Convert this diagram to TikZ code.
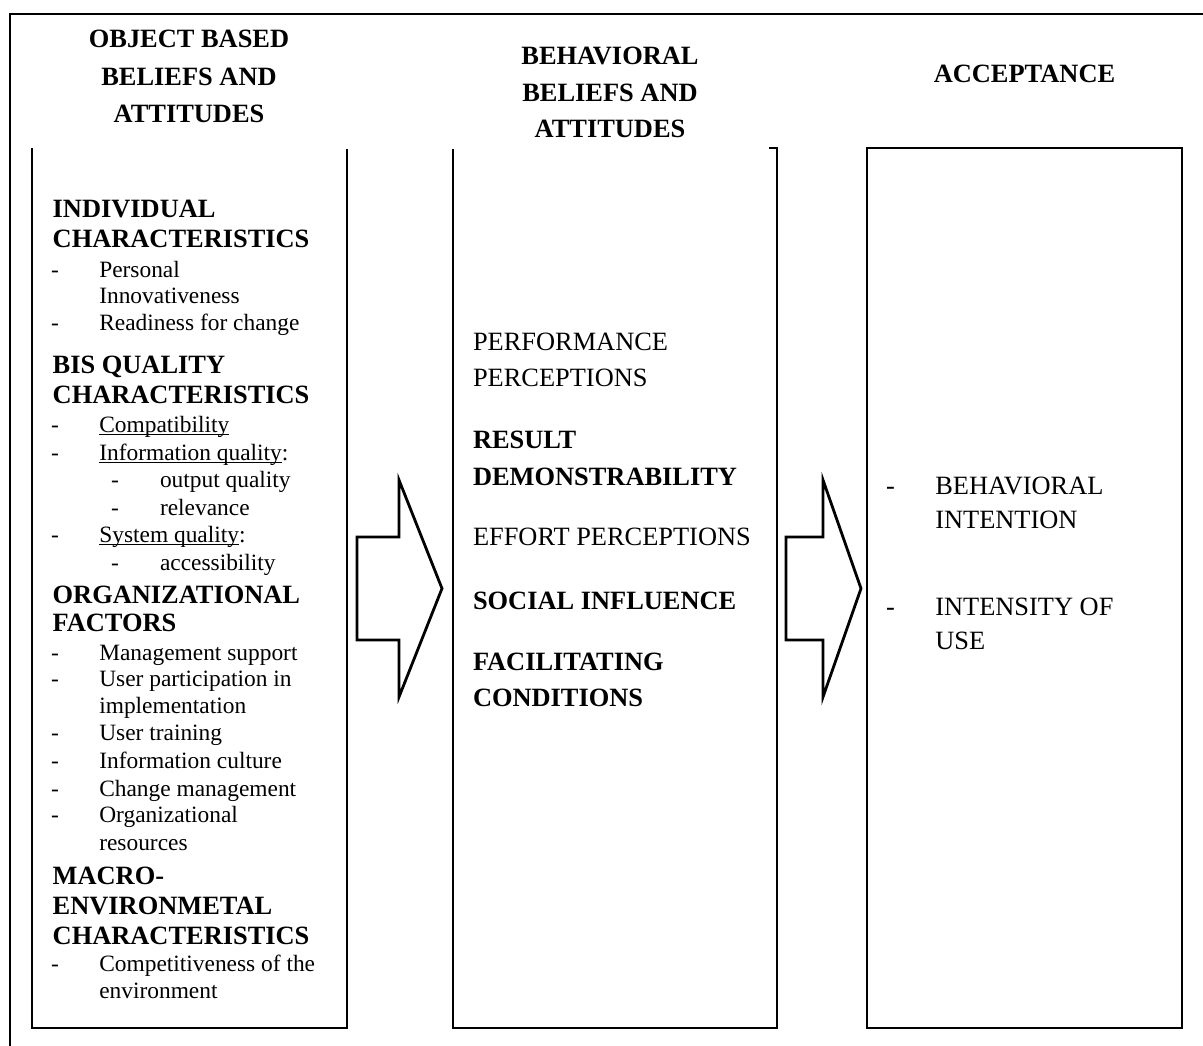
\documentclass[tikz,border=0pt]{standalone}
\usepackage{fontspec}
\setmainfont{Liberation Serif}
% underline drawn at a fixed depth under the baseline
\newcommand\wordul[1]{\setbox0=\hbox{#1}\rlap{\rule[-2.6pt]{\wd0}{1.1pt}}\box0}
\begin{document}
\begin{tikzpicture}[x=1pt,y=-1pt,
  lbl/.style={inner sep=0pt, outer sep=0pt, anchor=base west},
  hd/.style={lbl, font=\fontsize{26.4}{30}\selectfont\bfseries},
  bd/.style={lbl, font=\fontsize{23.4}{27}\selectfont},
  txtbig/.style={lbl, font=\fontsize{26.4}{30}\selectfont},
  ttl/.style={hd, anchor=base},
  boxline/.style={line width=1.3pt},
  blockarrow/.style={line width=2.8pt, line join=miter},
  frameline/.style={line width=2.8pt}
]
\useasboundingbox (0,0) rectangle (1203,1046);
\clip (0,0) rectangle (1203,1046);

% outer frame (runs past the right and bottom edges)
\draw[frameline] (10,14) rectangle (1230,1080);

% column headings
\node[ttl] (oa) at (189,48) {OBJECT BASED};
\node[ttl] (ob) at (189,86) {BELIEFS AND};
\node[ttl] (oc) at (189,123) {ATTITUDES};
\node[ttl] (ba) at (610,65) {BEHAVIORAL};
\node[ttl] (bb) at (610,101.7) {BELIEFS AND};
\node[ttl] (bc) at (610,138) {ATTITUDES};
\node[ttl] (ac) at (1024.5,82.7) {ACCEPTANCE};

% columns
\draw[boxline] (32,148) -- (32,1028) -- (347,1028) -- (347,149);
\draw[boxline] (453,149) -- (453,1028) -- (777,1028) -- (777,148) -- (769,148);
\draw[boxline] (867,148) rectangle (1182,1028);

% block arrows
\draw[blockarrow] (357,537) -- (399,537) -- (399,480) -- (442,588.5)
  -- (399,697) -- (399,640) -- (357,640) -- cycle;
\draw[blockarrow] (786,537) -- (823,537) -- (823,480) -- (861,588.5)
  -- (823,697) -- (823,640) -- (786,640) -- cycle;

% left column: object based beliefs
\node[hd] (h1a) at (52.7,217.7) {INDIVIDUAL};
\node[hd] (h1b) at (52.7,247.3) {CHARACTERISTICS};
\node[bd] (d1) at (51,277) {-};
\node[bd] (i1) at (99.3,277) {Personal};
\node[bd] (i1b) at (99.3,303.5) {Innovativeness};
\node[bd] (d2) at (51,330) {-};
\node[bd] (i2) at (99.3,330) {Readiness for change};

\node[hd] (h2a) at (52.7,373.3) {BIS QUALITY};
\node[hd] (h2b) at (52.7,403.3) {CHARACTERISTICS};
\node[bd] (d3) at (51,432.7) {-};
\node[bd] (i3) at (99.3,432.7) {\wordul{Compatibility}};
\node[bd] (d4) at (51,460) {-};
\node[bd] (i4) at (99.3,460) {\wordul{Information quality}:};
\node[bd] (d4a) at (111,487.3) {-};
\node[bd] (i4a) at (160,487.3) {output quality};
\node[bd] (d4b) at (111,515) {-};
\node[bd] (i4b) at (160,515) {relevance};
\node[bd] (d5) at (51,542.3) {-};
\node[bd] (i5) at (99.3,542.3) {\wordul{System quality}:};
\node[bd] (d5a) at (111,570) {-};
\node[bd] (i5a) at (160,570) {accessibility};

\node[hd] (h3a) at (52.7,603.3) {ORGANIZATIONAL};
\node[hd] (h3b) at (52.7,631.7) {FACTORS};
\node[bd] (d6) at (51,660) {-};
\node[bd] (i6) at (99.3,660) {Management support};
\node[bd] (d7) at (51,686.7) {-};
\node[bd] (i7) at (99.3,686.7) {User participation in};
\node[bd] (i7b) at (99.3,713.3) {implementation};
\node[bd] (d8) at (51,740.7) {-};
\node[bd] (i8) at (99.3,740.7) {User training};
\node[bd] (d9) at (51,768.3) {-};
\node[bd] (i9) at (99.3,768.3) {Information culture};
\node[bd] (d10) at (51,796) {-};
\node[bd] (i10) at (99.3,796) {Change management};
\node[bd] (d11) at (51,822.7) {-};
\node[bd] (i11) at (99.3,822.7) {Organizational};
\node[bd] (i11b) at (99.3,850) {resources};

\node[hd] (h4a) at (52.7,884) {MACRO-};
\node[hd] (h4b) at (52.7,914.5) {ENVIRONMETAL};
\node[hd] (h4c) at (52.7,944.3) {CHARACTERISTICS};
\node[bd] (d12) at (51,971.7) {-};
\node[bd] (i12) at (99.3,971.7) {Competitiveness of the};
\node[bd] (i12b) at (99.3,998.3) {environment};

% middle column: behavioral beliefs
\node[txtbig] (m1a) at (473,350) {PERFORMANCE};
\node[txtbig] (m1b) at (473,386) {PERCEPTIONS};
\node[hd] (m2a) at (473,448.3) {RESULT};
\node[hd] (m2b) at (473,485) {DEMONSTRABILITY};
\node[txtbig] (m3) at (473,545) {EFFORT PERCEPTIONS};
\node[hd] (m4) at (473,609.3) {SOCIAL INFLUENCE};
\node[hd] (m5a) at (473,670.7) {FACILITATING};
\node[hd] (m5b) at (473,706.7) {CONDITIONS};

% right column: acceptance
\node[txtbig] (rd1) at (886,494.3) {-};
\node[txtbig] (r1a) at (935.3,494.3) {BEHAVIORAL};
\node[txtbig] (r1b) at (935.3,528.3) {INTENTION};
\node[txtbig] (rd2) at (886,615) {-};
\node[txtbig] (r2a) at (935.3,615) {INTENSITY OF};
\node[txtbig] (r2b) at (935.3,649.3) {USE};
\end{tikzpicture}
\end{document}
